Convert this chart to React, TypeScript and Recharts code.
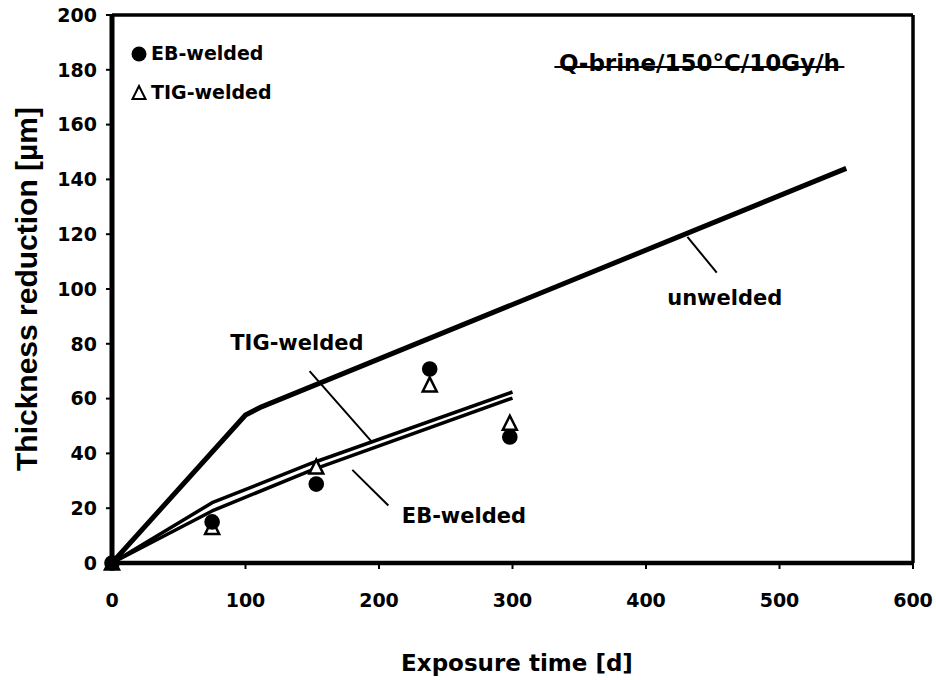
import React from 'react';
import {
  ComposedChart,
  Line,
  Scatter,
  XAxis,
  YAxis,
  ReferenceLine,
  ReferenceDot,
  Legend,
} from 'recharts';

// ---- data ----
const xTicks = [0, 100, 200, 300, 400, 500, 600];
const yTicks = [0, 20, 40, 60, 80, 100, 120, 140, 160, 180, 200];

const unweldedTime = [0, 100, 112, 550];
const unweldedThick = [0, 54, 57, 144];

const weldTime = [0, 75, 150, 300];
const tigThick = [0, 22, 36.5, 62.4];
const ebThick = [0, 19, 34, 60.2];

const measTime = [0, 75, 153, 238, 298];
const ebMeas = [0, 15, 28.8, 70.8, 46];
const tigMeas = [0, 13, 35, 65, 51];

const tigLeader = [[148, 70], [195, 44]];
const ebLeader = [[180, 34], [207, 21]];
const unweldedLeader = [[431, 119], [453, 106]];

const lineLabels = [
  { text: 'TIG-welded', x: 138.5, y: 80.3 },
  { text: 'EB-welded', x: 263.6, y: 17.2 },
  { text: 'unwelded', x: 459, y: 96.7 },
];
const titleText = 'Q-brine/150°C/10Gy/h';
const titlePos = { x: 440, y: 182.5 };

const toPts = (xs: number[], ys: number[]) => xs.map((x, i) => ({ x, y: ys[i] }));
const unweldedData = toPts(unweldedTime, unweldedThick);
const tigData = toPts(weldTime, tigThick);
const ebData = toPts(weldTime, ebThick);
const ebMeasData = toPts(measTime, ebMeas);
const tigMeasData = toPts(measTime, tigMeas);

const FONT = '"DejaVu Sans", sans-serif';
const AFONT = '"Liberation Sans", Arial, sans-serif';

const Tri = (props: any) => {
  const { cx, cy } = props;
  if (cx == null || cy == null) return null;
  const h = 13;
  const w = 14;
  return (
    <polygon
      points={`${cx},${cy - h / 2 - 1} ${cx - w / 2},${cy + h / 2} ${cx + w / 2},${cy + h / 2}`}
      fill="#fff"
      stroke="#000"
      strokeWidth={2.5}
      strokeLinejoin="miter"
    />
  );
};

const Dot = (props: any) => {
  const { cx, cy } = props;
  if (cx == null || cy == null) return null;
  return <circle cx={cx} cy={cy} r={7.8} fill="#000" />;
};

const LegendContent = () => (
  <div style={{ fontFamily: FONT, fontWeight: 'bold', fontSize: 19, color: '#000', lineHeight: '39px' }}>
    <div style={{ display: 'flex', alignItems: 'center', height: 39 }}>
      <svg width={18} height={18} style={{ marginRight: 3 }}>
        <circle cx={9} cy={9} r={7.5} fill="#000" />
      </svg>
      <span>EB-welded</span>
    </div>
    <div style={{ display: 'flex', alignItems: 'center', height: 39 }}>
      <svg width={18} height={18} style={{ marginRight: 3 }}>
        <polygon points="9,2 2.5,15 15.5,15" fill="#fff" stroke="#000" strokeWidth={2} />
      </svg>
      <span>TIG-welded</span>
    </div>
  </div>
);

export default function App() {
  return (
    <div style={{ position: 'absolute', left: 0, top: 0, width: 936, height: 680, background: '#fff' }}>
      <ComposedChart width={936} height={680} margin={{ top: 15, right: 23, bottom: 57, left: 42 }}>
        <XAxis
          type="number"
          dataKey="x"
          domain={[0, 600]}
          ticks={xTicks}
          height={60}
          axisLine={{ stroke: '#000', strokeWidth: 4.5 }}
          tickLine={{ stroke: '#000', strokeWidth: 2 }}
          tickSize={6}
          tickMargin={25}
          tick={{ fill: '#000', fontSize: 19, fontWeight: 'bold', fontFamily: FONT }}
          label={{
            content: () => (
              <text
                x={517}
                y={663}
                textAnchor="middle"
                dominantBaseline="central"
                fontFamily={FONT}
                fontWeight="bold"
                fontSize={23}
                fill="#000"
              >
                Exposure time [d]
              </text>
            ),
          }}
        />
        <YAxis
          type="number"
          domain={[0, 200]}
          ticks={yTicks}
          width={70}
          axisLine={{ stroke: '#000', strokeWidth: 5 }}
          tickLine={{ stroke: '#000', strokeWidth: 2 }}
          tickSize={6}
          tickMargin={9}
          tick={{ fill: '#000', fontSize: 19, fontWeight: 'bold', fontFamily: FONT }}
          label={{
            content: () => (
              <text
                x={26}
                y={289}
                transform="rotate(-90 26 289)"
                textAnchor="middle"
                dominantBaseline="central"
                fontFamily={AFONT}
                fontWeight="bold"
                fontSize={30}
                fill="#000"
              >
                Thickness reduction [µm]
              </text>
            ),
          }}
        />
        <ReferenceLine y={200} stroke="#000" strokeWidth={3.5} ifOverflow="visible" />
        <ReferenceLine x={600} stroke="#000" strokeWidth={3.5} ifOverflow="visible" />

        <ReferenceLine segment={tigLeader.map(([x, y]) => ({ x, y }))} stroke="#000" strokeWidth={2} />
        <ReferenceLine segment={ebLeader.map(([x, y]) => ({ x, y }))} stroke="#000" strokeWidth={2} />
        <ReferenceLine segment={unweldedLeader.map(([x, y]) => ({ x, y }))} stroke="#000" strokeWidth={2} />

        <Line data={unweldedData} dataKey="y" stroke="#000" strokeWidth={5} dot={false} isAnimationActive={false} strokeLinejoin="round" />
        <Line data={tigData} dataKey="y" stroke="#000" strokeWidth={3.5} dot={false} isAnimationActive={false} strokeLinejoin="round" />
        <Line data={ebData} dataKey="y" stroke="#000" strokeWidth={3.5} dot={false} isAnimationActive={false} strokeLinejoin="round" />

        <Scatter data={tigMeasData} dataKey="y" shape={Tri} isAnimationActive={false} />
        <Scatter data={ebMeasData} dataKey="y" shape={Dot} isAnimationActive={false} />

        {lineLabels.map((l) => (
          <ReferenceDot
            key={l.text}
            x={l.x}
            y={l.y}
            r={0}
            ifOverflow="visible"
            shape={(p: any) => (
              <text
                x={p.cx}
                y={p.cy}
                textAnchor="middle"
                dominantBaseline="central"
                fontFamily={FONT}
                fontWeight="bold"
                fontSize={21}
                fill="#000"
              >
                {l.text}
              </text>
            )}
          />
        ))}
        <ReferenceDot
          x={titlePos.x}
          y={titlePos.y}
          r={0}
          ifOverflow="visible"
          shape={(p: any) => (
            <g>
              <text
                x={p.cx}
                y={p.cy}
                textAnchor="middle"
                dominantBaseline="central"
                fontFamily={FONT}
                fontWeight="bold"
                fontSize={23}
                fill="#000"
              >
                {titleText}
              </text>
              <line x1={p.cx - 145} x2={p.cx + 145} y1={p.cy + 4} y2={p.cy + 4} stroke="#000" strokeWidth={2} />
            </g>
          )}
        />
        <Legend
          layout="vertical"
          align="center"
          verticalAlign="middle"
          content={LegendContent}
          wrapperStyle={{ left: 130, top: 34, width: 200 }}
        />
      </ComposedChart>
    </div>
  );
}
